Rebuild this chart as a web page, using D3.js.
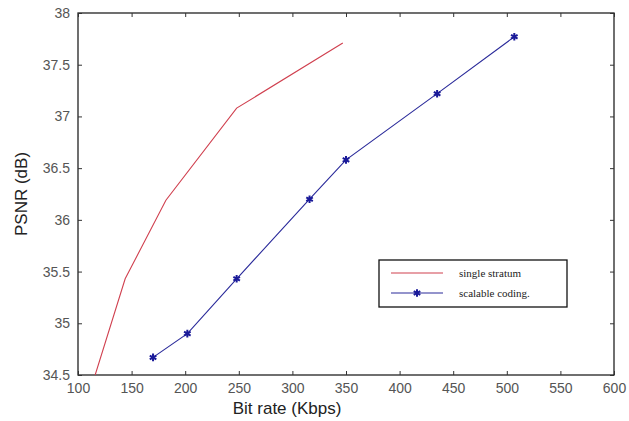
<!DOCTYPE html>
<html>
<head>
<meta charset="utf-8">
<script src="https://cdn.jsdelivr.net/npm/d3@7"></script>
<style>
  body { margin: 0; background: #fff; }
  svg { display: block; }
</style>
</head>
<body>
<div id="chart"></div>
<script>
// data
var singleRate = [116, 144, 182, 248, 347];
var singlePsnr = [34.5, 35.43, 36.19, 37.08, 37.71];
var scalableRate = [170, 202, 248, 316, 350, 435, 507];
var scalablePsnr = [34.67, 34.9, 35.43, 36.2, 36.58, 37.22, 37.77];
var xTicks = [100, 150, 200, 250, 300, 350, 400, 450, 500, 550, 600];
var yTicks = [34.5, 35, 35.5, 36, 36.5, 37, 37.5, 38];
var seriesNames = ["single stratum", "scalable coding."];

var W = 629, H = 421;
var margin = {top: 13, right: 15, bottom: 46, left: 78},
    width = W - margin.left - margin.right,
    height = H - margin.top - margin.bottom;

var x = d3.scaleLinear().domain([100, 600]).range([0, width]);
var y = d3.scaleLinear().domain([34.5, 38]).range([height, 0]);

var svg = d3.select("#chart").append("svg")
    .attr("width", W)
    .attr("height", H);

var g = svg.append("g")
    .attr("transform", "translate(" + margin.left + "," + margin.top + ")");

g.append("clipPath").attr("id", "clip")
  .append("rect").attr("width", width).attr("height", height);

// frame
g.append("rect")
  .attr("width", width).attr("height", height)
  .attr("fill", "none").attr("stroke", "#222").attr("stroke-width", 1.3);

// axes, ticks pointing inward like matlab
var tickFont = "Liberation Sans, Arial, sans-serif";
var xAxis = g.append("g")
    .attr("transform", "translate(0," + height + ")")
    .call(d3.axisBottom(x).tickValues(xTicks).tickSize(-4).tickPadding(8));
var yAxis = g.append("g")
    .call(d3.axisLeft(y).tickValues(yTicks).tickSize(-4).tickPadding(8)
      .tickFormat(function(d) { return d3.format("")(d); }));
g.append("g")
    .call(d3.axisTop(x).tickValues(xTicks).tickSize(-4).tickFormat(""));
g.append("g")
    .attr("transform", "translate(" + width + ",0)")
    .call(d3.axisRight(y).tickValues(yTicks).tickSize(-4).tickFormat(""));

g.selectAll(".domain").remove();
g.selectAll(".tick line").attr("stroke", "#333");
[xAxis, yAxis].forEach(function(a) {
  a.selectAll("text")
    .attr("fill", "#555")
    .style("font-family", tickFont)
    .style("font-size", "14px");
});

// lines
var line = d3.line()
  .x(function(d) { return x(d[0]); })
  .y(function(d) { return y(d[1]); });

var single = singleRate.map(function(r, i) { return [r, singlePsnr[i]]; });
var scalable = scalableRate.map(function(r, i) { return [r, scalablePsnr[i]]; });

var plot = g.append("g").attr("clip-path", "url(#clip)");
plot.append("path").datum(single)
  .attr("d", line).attr("fill", "none")
  .attr("stroke", "#d0404f").attr("stroke-width", 1.1);
plot.append("path").datum(scalable)
  .attr("d", line).attr("fill", "none")
  .attr("stroke", "#2a2a9a").attr("stroke-width", 1.1);

var star = d3.symbol().type(d3.symbolAsterisk).size(40);
g.selectAll(".mk").data(scalable).enter().append("path")
  .attr("class", "mk")
  .attr("d", star)
  .attr("transform", function(d) { return "translate(" + x(d[0]) + "," + y(d[1]) + ")"; })
  .attr("fill", "none").attr("stroke", "#1a1a99").attr("stroke-width", 2);

// legend
var lg = svg.append("g").attr("transform", "translate(379,260)");
lg.append("rect").attr("width", 188).attr("height", 47)
  .attr("fill", "#fff").attr("stroke", "#111").attr("stroke-width", 1.3);
lg.append("line").attr("x1", 12).attr("x2", 64).attr("y1", 13).attr("y2", 13)
  .attr("stroke", "#d0404f").attr("stroke-width", 1.1);
lg.append("line").attr("x1", 12).attr("x2", 64).attr("y1", 33).attr("y2", 33)
  .attr("stroke", "#2a2a9a").attr("stroke-width", 1.1);
lg.append("path").attr("d", star)
  .attr("transform", "translate(38,33)")
  .attr("fill", "none").attr("stroke", "#1a1a99").attr("stroke-width", 2);
lg.selectAll(".lt").data(seriesNames).enter().append("text")
  .attr("x", 80)
  .attr("y", function(d, i) { return 17 + i * 20; })
  .style("font-family", "Liberation Serif, Times New Roman, serif")
  .style("font-size", "11px")
  .attr("fill", "#222")
  .text(function(d) { return d; });

// axis labels
svg.append("text")
  .attr("x", margin.left + x(295)).attr("y", 414)
  .style("text-anchor", "middle")
  .style("font-family", tickFont).style("font-size", "17px")
  .attr("fill", "#222")
  .text("Bit rate (Kbps)");
svg.append("text")
  .attr("transform", "translate(27," + (margin.top + height / 2) + ") rotate(-90)")
  .style("text-anchor", "middle")
  .style("font-family", tickFont).style("font-size", "17px")
  .attr("fill", "#222")
  .text("PSNR (dB)");
</script>
</body>
</html>
